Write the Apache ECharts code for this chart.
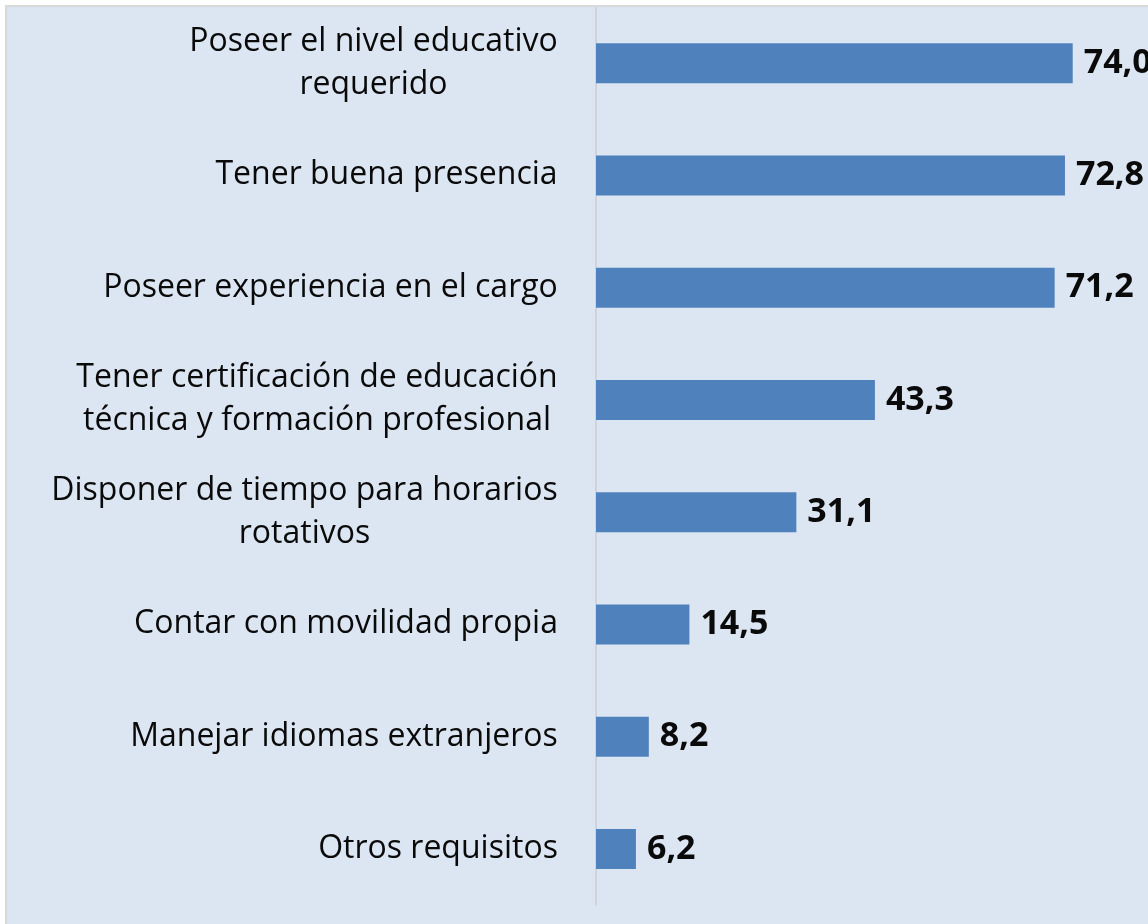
<!DOCTYPE html>
<html>
<head>
<meta charset="utf-8">
<script src="https://cdn.jsdelivr.net/npm/echarts@6/dist/echarts.min.js"></script>
<style>
  html, body { margin: 0; padding: 0; background: #ffffff; }
  #chart {
    position: absolute; left: 5px; top: 5px;
    width: 1143px; height: 919px;
    border-left: 2px solid #d9d9d9; border-top: 2px solid #d9d9d9;
    background: #dce6f2;
  }
</style>
</head>
<body>
<div id="chart"></div>
<script>
// categorias (de abajo hacia arriba, como las dibuja el eje)
var categorias = [
  'Otros requisitos',
  'Manejar idiomas extranjeros',
  'Contar con movilidad propia',
  'Disponer de tiempo para horarios\nrotativos',
  'Tener certificación de educación\ntécnica y formación profesional',
  'Poseer experiencia en el cargo',
  'Tener buena presencia',
  'Poseer el nivel educativo\nrequerido'
];
var valores = [6.2, 8.2, 14.5, 31.1, 43.3, 71.2, 72.8, 74.0];

var fuente = '"Open Sans", "Noto Sans", sans-serif';
var tamLetra = 32;

// ancho de cada etiqueta para centrar las lineas dentro del bloque
var ctx = document.createElement('canvas').getContext('2d');
ctx.font = tamLetra + 'px ' + fuente;
var rich = {};
categorias.forEach(function (c, i) {
  var w = 0;
  c.split('\n').forEach(function (l) { w = Math.max(w, ctx.measureText(l).width); });
  rich['c' + i] = { width: Math.ceil(w), align: 'center', fontSize: tamLetra,
                    fontFamily: fuente, color: '#0a0a0a', lineHeight: 43 };
});

var chart = echarts.init(document.getElementById('chart'));
chart.setOption({
  backgroundColor: 'transparent',
  animation: false,
  grid: { left: 589, right: 0, top: 0, bottom: 21 },
  xAxis: {
    type: 'value', min: 0, max: 86,
    show: false
  },
  yAxis: {
    type: 'category',
    data: categorias,
    axisLine: { show: true, lineStyle: { color: '#d0d4da', width: 2 } },
    axisTick: { show: false },
    axisLabel: {
      margin: 38,
      align: 'right',
      rich: rich,
      formatter: function (v, i) {
        return v.split('\n').map(function (l) { return '{c' + i + '|' + l + '}'; }).join('\n');
      }
    }
  },
  series: [{
    type: 'bar',
    data: valores,
    barWidth: 40,
    itemStyle: { color: '#4f81bd' },
    label: {
      show: true,
      position: 'right',
      distance: 11,
      fontFamily: fuente,
      fontSize: 34,
      fontWeight: 'bold',
      color: '#0a0a0a',
      formatter: function (p) { return p.value.toFixed(1).replace('.', ','); }
    }
  }]
});
</script>
</body>
</html>
